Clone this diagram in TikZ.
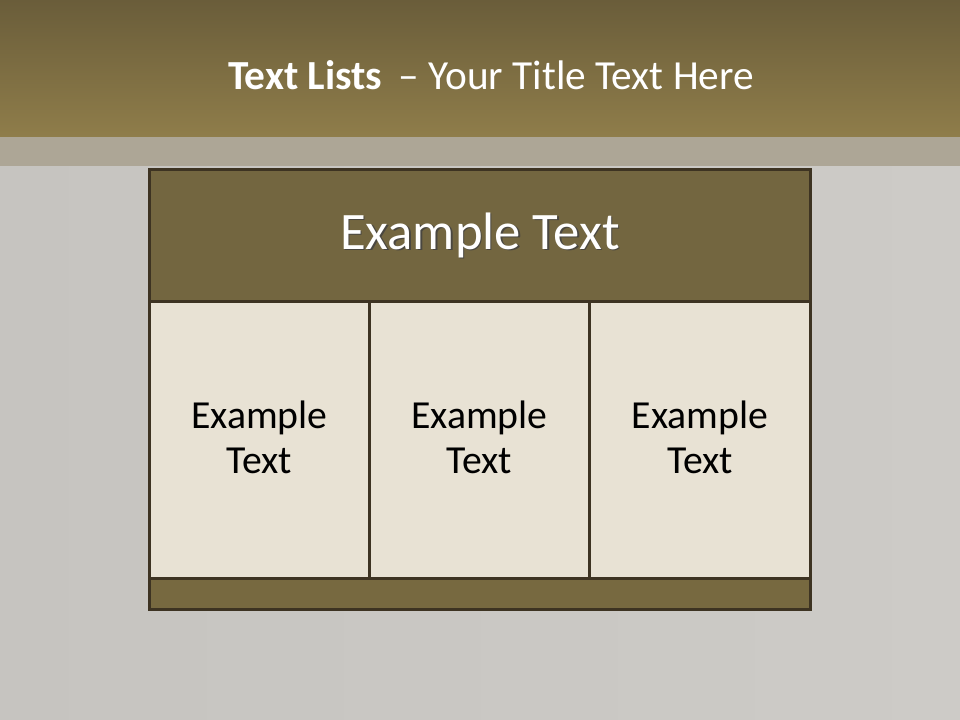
\documentclass[tikz,border=0pt]{standalone}
\usepackage{fontspec}
\setmainfont{Carlito}
\definecolor{bandtop}{HTML}{6A5D3A}
\definecolor{bandbot}{HTML}{8F7D4A}
\definecolor{band2}{HTML}{ADA696}
\definecolor{bgl}{HTML}{C6C4C0}
\definecolor{bgr}{HTML}{CDCBC7}
\definecolor{hdr}{HTML}{736640}
\definecolor{ftr}{HTML}{776940}
\definecolor{cellc}{HTML}{E8E2D4}
\definecolor{edge}{HTML}{3D3322}
\begin{document}
\begin{tikzpicture}[x=0.75pt,y=-0.75pt,
  boxpart/.style={draw=edge,line width=2.25pt,inner sep=0pt,anchor=north west},
  hfont/.style={font=\fontsize{39.5}{47}\selectfont},
  celltext/.style={align=center,font=\fontsize{29.8}{33.75}\selectfont,text=black}]
\useasboundingbox (0,0) rectangle (960,720);
\shade[left color=bgl,right color=bgr] (0,0) rectangle (960,720);
\shade[top color=bandtop,bottom color=bandbot] (0,0) rectangle (960,137);
\fill[band2] (0,137) rectangle (960,166);
\node[text=white,font=\fontsize{31}{37}\selectfont] (title) at (491,75) {\textbf{Text Lists}\, – Your Title Text Here};
\node[boxpart,fill=hdr,minimum width=661*0.75pt,minimum height=132*0.75pt] (header) at (148,168) {};
\node[boxpart,fill=cellc,minimum width=220*0.75pt,minimum height=277*0.75pt] (c1) at (148,300) {};
\node[boxpart,fill=cellc,minimum width=220*0.75pt,minimum height=277*0.75pt] (c2) at (368,300) {};
\node[boxpart,fill=cellc,minimum width=221*0.75pt,minimum height=277*0.75pt] (c3) at (588,300) {};
\node[boxpart,fill=ftr,minimum width=661*0.75pt,minimum height=31*0.75pt] (footer) at (148,577) {};
\node[hfont,text=black!75,opacity=0.8] (hshadow) at ([xshift=1pt,yshift=-1pt]header.center) {Example Text};
\node[hfont,text=white] (htext) at (header.center) {Example Text};
\node[celltext] (t1) at ([yshift=2pt]c1.center) {Example\\Text};
\node[celltext] (t2) at ([yshift=2pt]c2.center) {Example\\Text};
\node[celltext] (t3) at ([yshift=2pt]c3.center) {Example\\Text};
\end{tikzpicture}
\end{document}
